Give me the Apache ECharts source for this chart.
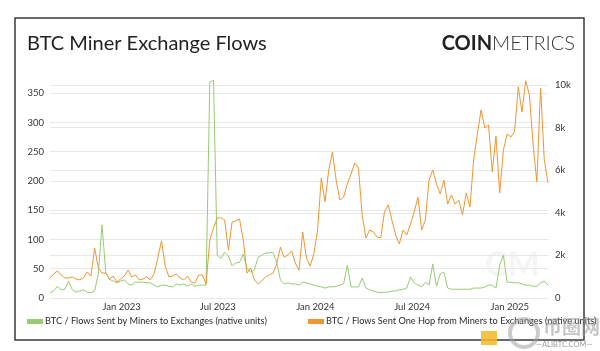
<!DOCTYPE html>
<html>
<head>
<meta charset="utf-8">
<script src="https://cdn.jsdelivr.net/npm/echarts@6/dist/echarts.min.js"></script>
<style>
  html, body { margin: 0; padding: 0; background: #fff; }
  #chart { width: 600px; height: 351px; }
</style>
</head>
<body>
<div id="chart"></div>
<script>
// weekly samples, first one on 2022-08-19
const startDate = new Date(2022, 7, 19)
const stepDays = 7

// BTC sent by miners straight to exchanges (left axis)
const minerToExchange = [
  9, 12, 20, 14, 15, 29, 14, 10, 12, 14,
  10, 9, 12, 41, 125, 44, 32, 29, 26, 29,
  31, 24, 22, 27, 27, 27, 26, 26, 22, 19,
  22, 22, 20, 19, 24, 22, 24, 20, 24, 20,
  22, 22, 22, 369, 372, 73, 68, 78, 72, 55,
  60, 61, 75, 51, 44, 48, 70, 73, 77, 77,
  78, 61, 31, 24, 26, 24, 24, 22, 27, 26,
  24, 22, 20, 19, 17, 19, 19, 20, 22, 24,
  56, 19, 19, 19, 34, 17, 14, 12, 10, 9,
  10, 10, 12, 12, 14, 15, 17, 36, 26, 22,
  19, 27, 22, 58, 20, 41, 44, 17, 15, 15,
  15, 15, 15, 15, 17, 17, 17, 19, 22, 22,
  17, 56, 73, 27, 27, 26, 26, 24, 22, 22,
  20, 20, 26, 29, 22
]

// BTC sent one hop from miners to exchanges (right axis)
const oneHopToExchange = [
  940, 1130, 1270, 1080, 940, 940, 990, 890, 850, 940,
  1220, 1030, 2350, 1410, 1170, 1170, 890, 1030, 750, 890,
  1030, 1310, 990, 1080, 850, 890, 990, 850, 1130, 1880,
  2680, 1500, 990, 1030, 1130, 940, 850, 1030, 750, 700,
  1080, 1080, 660, 2720, 3290, 3760, 3760, 3660, 2250, 3570,
  3620, 3710, 2720, 1170, 1410, 850, 660, 800, 990, 1080,
  1170, 1600, 2390, 1920, 2020, 2210, 1640, 1300, 3100, 1880,
  1500, 2070, 3190, 5630, 4520, 6010, 6850, 5540, 4600, 4740,
  5350, 5820, 6340, 6100, 3900, 2820, 3190, 3100, 2860, 2820,
  4040, 4370, 3660, 2960, 2540, 3190, 2960, 3470, 4040, 4740,
  3190, 3660, 5540, 6010, 5350, 4880, 5540, 4410, 4840, 4410,
  4600, 3900, 4930, 4270, 6480, 7700, 8830, 7980, 8120, 5920,
  7610, 4930, 6950, 7700, 7560, 7790, 9910, 8730, 10200, 9530,
  7180, 5450, 9860, 6480, 5400
]

const tickDates = [
  new Date(2023, 0, 1), new Date(2023, 6, 1), new Date(2024, 0, 1),
  new Date(2024, 6, 1), new Date(2025, 0, 1)
]
const monthNames = ['Jan', 'Feb', 'Mar', 'Apr', 'May', 'Jun', 'Jul', 'Aug', 'Sep', 'Oct', 'Nov', 'Dec']

const greenName = 'BTC / Flows Sent by Miners to Exchanges (native units)'
const orangeName = 'BTC / Flows Sent One Hop from Miners to Exchanges (native units)'

const dateAt = (i) => new Date(startDate.getFullYear(), startDate.getMonth(), startDate.getDate() + i * stepDays).getTime()
const pairs = (vals) => vals.map((v, i) => [dateAt(i), v])

const font = 'Lato, "Open Sans", sans-serif'
const chart = echarts.init(document.getElementById('chart'), null, {renderer: 'canvas'})

const legendText = {fontFamily: font, fontSize: 9.2, color: '#2a2a2a', padding: [0, 0, 0, -3]}

chart.setOption({
  animation: false,
  backgroundColor: '#fff',
  textStyle: {fontFamily: font},
  title: [
    {
      text: 'BTC Miner Exchange Flows',
      left: 22, top: 29,
      textStyle: {fontFamily: font, fontSize: 20, fontWeight: 'normal', color: '#222'},
    },
    {
      text: '{b|COIN}{l|METRICS}',
      right: 20, top: 29,
      textStyle: {
        rich: {
          b: {fontFamily: font, fontSize: 20, fontWeight: 'bold', color: '#222'},
          l: {fontFamily: font, fontSize: 20, fontWeight: 300, color: '#333'},
        },
      },
    },
  ],
  graphic: [
    {
      type: 'rect', silent: true, z: -1,
      shape: {x: 15, y: 18, width: 569, height: 322},
      style: {fill: 'none', stroke: '#3a3a3a', lineWidth: 1.5},
    },
    {
      type: 'text', left: 485, top: 248, silent: true, z: 0,
      style: {text: 'CM', fontSize: 34, fontWeight: 'bold', fill: 'rgba(200,200,200,0.18)', fontFamily: font},
    },
    {
      type: 'rect', silent: true, z: 10,
      shape: {x: 481, y: 331, width: 16, height: 14},
      style: {fill: 'rgba(242,184,40,0.85)'},
    },
    {
      type: 'circle', silent: true, z: 10,
      shape: {cx: 524, cy: 333, r: 14},
      style: {fill: 'none', stroke: 'rgba(160,160,160,0.55)', lineWidth: 4},
    },
    {
      type: 'text', left: 543, top: 317, silent: true, z: 10,
      style: {text: '币圈网', fontSize: 19, fontWeight: 'bold', fill: 'rgba(150,150,150,0.55)', fontFamily: '"Noto Sans CJK SC", sans-serif'},
    },
    {
      type: 'text', left: 536, top: 341, silent: true, z: 10,
      style: {text: '—ALIBTC.COM—', fontSize: 7.5, fill: 'rgba(120,120,120,0.75)', fontFamily: font},
    },
  ],
  legend: [
    {
      data: [greenName], left: 22, top: 312,
      icon: 'rect', itemWidth: 16, itemHeight: 5, itemGap: 4,
      textStyle: legendText,
    },
    {
      data: [orangeName], left: 303, top: 312,
      icon: 'rect', itemWidth: 16, itemHeight: 5, itemGap: 4,
      textStyle: legendText,
    },
  ],
  grid: {left: 50, right: 52, top: 85, bottom: 53},
  xAxis: {
    type: 'value',
    min: dateAt(0),
    max: dateAt(oneHopToExchange.length - 1),
    axisLine: {show: false},
    axisTick: {show: false},
    splitLine: {show: false},
    axisLabel: {
      customValues: tickDates.map((d) => d.getTime()),
      formatter: (v) => {
        const d = new Date(v)
        return monthNames[d.getMonth()] + ' ' + d.getFullYear()
      },
      fontFamily: font, fontSize: 9.5, color: '#333', margin: 4,
    },
  },
  yAxis: [
    {
      type: 'value', min: 0, max: 364, interval: 50,
      axisLine: {show: false}, axisTick: {show: false},
      axisLabel: {fontFamily: font, fontSize: 9.5, color: '#333', margin: 6, showMaxLabel: false},
      splitLine: {lineStyle: {color: '#e8e8e8', width: 1}},
    },
    {
      type: 'value', min: 0, max: 10000, interval: 2000,
      axisLine: {show: false}, axisTick: {show: false},
      axisLabel: {
        fontFamily: font, fontSize: 9.5, color: '#333', margin: 7,
        formatter: (v) => (v === 0 ? '0' : v / 1000 + 'k'),
      },
      splitLine: {lineStyle: {color: '#e8e8e8', width: 1}},
    },
  ],
  series: [
    {
      name: greenName, type: 'line', yAxisIndex: 0,
      data: pairs(minerToExchange),
      showSymbol: false, clip: false,
      itemStyle: {color: '#97cc72'},
      lineStyle: {color: '#97cc72', width: 1},
    },
    {
      name: orangeName, type: 'line', yAxisIndex: 1,
      data: pairs(oneHopToExchange),
      showSymbol: false, clip: false,
      itemStyle: {color: '#ee9633'},
      lineStyle: {color: '#ee9633', width: 1},
    },
  ],
})
</script>
</body>
</html>
